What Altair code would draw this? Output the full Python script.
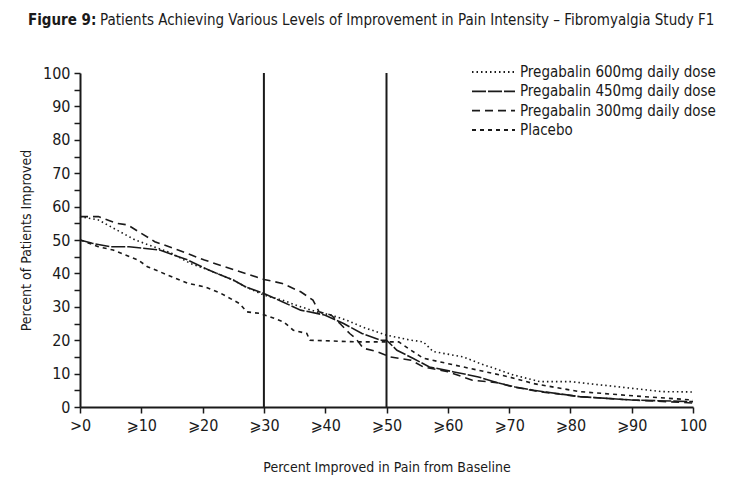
import altair as alt
import pandas as pd

FONT = "Liberation Sans Narrow, DejaVu Sans Condensed, sans-serif"

series_names = ["Pregabalin 600mg daily dose", "Pregabalin 450mg daily dose",
                "Pregabalin 300mg daily dose", "Placebo"]

x600 = [0, 3, 6, 9, 12, 15, 18, 21, 25, 27, 30, 33, 36, 38.6, 41, 43.5, 46, 50, 54, 56, 57.6, 62.5, 65.3, 70.7, 75, 80, 90, 95, 100]
y600 = [57, 56, 53, 50, 48, 46, 43, 41, 38, 36, 33.5, 32, 30, 28.5, 27.5, 26, 24, 21.5, 20, 19.5, 16.6, 15, 13, 9.6, 7.6, 7.6, 5.6, 4.6, 4.5]

x450 = [0, 2, 5, 8, 13, 17.6, 21, 25, 27, 30, 33, 36, 40, 43, 46, 49, 50, 51.7, 54.3, 57, 61, 65, 68, 71, 74, 81.5, 90, 100]
y450 = [50, 49, 48, 48, 47, 44, 41, 38, 36, 34, 31.5, 29, 27.5, 25, 22, 20, 20, 17, 14.6, 12, 10.5, 9, 7.3, 6, 5, 3.1, 2.1, 1.6]

x300 = [0, 3, 6, 7.8, 10, 12.2, 16, 20.3, 25.3, 30, 33, 36, 38, 39, 41, 42.4, 44, 45, 46.2, 48.4, 50.6, 54, 56, 60, 64, 68, 70.7, 75, 81.5, 90, 100]
y300 = [57, 57, 55, 54.5, 52, 49.5, 47, 44, 41, 38.2, 37, 34.5, 32, 28.5, 27.5, 25, 22, 20.5, 17.6, 16.6, 15, 14, 12, 10.6, 8, 7.3, 6, 4.6, 3.1, 2.1, 1.2]

xpl = [0, 3, 5.4, 9.5, 11, 13, 17.6, 20.3, 23, 26, 27.2, 29.4, 31, 33.2, 34.8, 37, 37.5, 45, 50, 52, 54, 56, 60, 65, 70, 74, 81.5, 92, 100]
ypl = [50, 48, 47, 44, 42, 40.5, 37, 36, 34, 31, 28.5, 28, 27, 25.5, 23, 22, 20, 19.5, 19.5, 19.5, 17, 14.6, 13, 11, 9, 7, 4.6, 3.1, 2.1]

ref_lines = [30, 50]
x_tick_values = list(range(0, 101, 5))
x_tick_labels = {0: ">0", 10: "⩾10", 20: "⩾20", 30: "⩾30", 40: "⩾40", 50: "⩾50",
                 60: "⩾60", 70: "⩾70", 80: "⩾80", 90: "⩾90", 100: "100"}
y_tick_values = list(range(0, 101, 5))

title_bold_text = "Figure 9:"
title_rest_text = "Patients Achieving Various Levels of Improvement in Pain Intensity – Fibromyalgia Study F1"

rows = []
for name, xs, ys in zip(series_names, [x600, x450, x300, xpl], [y600, y450, y300, ypl]):
    for a, b in zip(xs, ys):
        rows.append({"series": name, "x": a, "y": b})
df = pd.DataFrame(rows)
leg_df = pd.DataFrame({"series": series_names})

label_expr = "datum.value % 10 != 0 ? '' : " + " : ".join(
    f"datum.value == {k} ? '{v}'" for k, v in x_tick_labels.items()) + " : ''"

xscale = alt.Scale(domain=[0, 100], nice=False)
yscale = alt.Scale(domain=[0, 100], nice=False)
dash_scale = alt.Scale(domain=series_names, range=[[1.5, 3], [14, 2], [8, 5], [4, 4]])
INK = "#1a1a1a"

lines = alt.Chart(df).mark_line(color=INK, strokeWidth=1.6).encode(
    x=alt.X("x:Q", scale=xscale,
            axis=alt.Axis(title="Percent Improved in Pain from Baseline", values=x_tick_values,
                          labelExpr=label_expr, grid=False, domainColor=INK, domainWidth=2,
                          tickColor=INK, tickWidth=1.5, tickSize=6, labelFontSize=16,
                          labelFont=FONT, labelColor=INK, labelPadding=4,
                          titleFont=FONT, titleFontSize=14, titleFontWeight="normal",
                          titleColor=INK, titlePadding=27, labelFlush=False)),
    y=alt.Y("y:Q", scale=yscale,
            axis=alt.Axis(title="Percent of Patients Improved", values=y_tick_values,
                          labelExpr="datum.value % 10 == 0 ? datum.value : ''",
                          grid=False, domainColor=INK, domainWidth=2,
                          tickColor=INK, tickWidth=1.5, tickSize=6, labelFontSize=16,
                          labelFont=FONT, labelColor=INK, labelPadding=4,
                          titleFont=FONT, titleFontSize=14, titleFontWeight="normal",
                          titleColor=INK, titlePadding=9)),
    strokeDash=alt.StrokeDash("series:N", scale=dash_scale, legend=None),
    detail="series:N",
)

rules = alt.Chart(pd.DataFrame({"x": ref_lines})).mark_rule(color=INK, strokeWidth=2).encode(
    x=alt.X("x:Q", scale=xscale)
)

leg_y = alt.Y("series:N", scale=alt.Scale(domain=series_names, type="point", range=[-1, 57], padding=0), axis=None)

leg_lines = alt.Chart(leg_df).mark_rule(color=INK, strokeWidth=1.8).encode(
    x=alt.value(392), x2=alt.value(435), y=leg_y,
    strokeDash=alt.StrokeDash("series:N", scale=dash_scale, legend=None),
)
leg_text = alt.Chart(leg_df).mark_text(font=FONT, fontSize=15, align="left", baseline="middle", color=INK).encode(
    x=alt.value(440), y=leg_y, text="series:N"
)

title_bold = alt.Chart(pd.DataFrame({"t": [title_bold_text]})).mark_text(
    font=FONT, fontSize=15, fontWeight="bold", align="left", baseline="middle", color=INK
).encode(text="t:N", x=alt.value(-52), y=alt.value(-53))

title_rest = alt.Chart(pd.DataFrame({"t": [title_rest_text]})).mark_text(
    font=FONT, fontSize=15, align="left", baseline="middle", color=INK
).encode(text="t:N", x=alt.value(20), y=alt.value(-53))

chart = alt.layer(rules, lines, leg_lines, leg_text, title_bold, title_rest).resolve_scale(
    y="independent"
).properties(
    width=613, height=334,
    autosize=alt.AutoSizeParams(type="none"),
    padding={"left": 72, "top": 65, "right": 28, "bottom": 72},
    background="white",
).configure_view(stroke=None)

chart.save("out.html", embed_options={"renderer": "svg", "actions": False})
